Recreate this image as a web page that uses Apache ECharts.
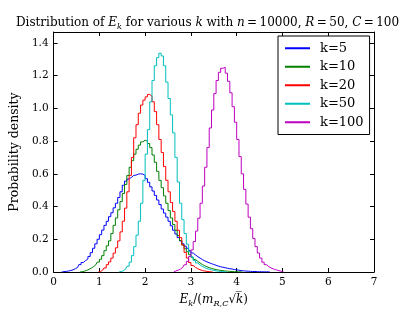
<!DOCTYPE html>
<html>
<head>
<meta charset="utf-8">
<script src="https://cdn.jsdelivr.net/npm/echarts@6/dist/echarts.min.js"></script>
<style>
html,body{margin:0;padding:0;background:#fff;}
#chart{width:415px;height:313px;}
</style>
</head>
<body>
<div id="chart"></div>
<script>
// Histogram bin width and first bin centre for each series
const binWidth = 0.05;
const seriesNames = ['k=5', 'k=10', 'k=20', 'k=50', 'k=100'];
const seriesColors = ['#0000ff', '#008000', '#ff0000', '#00bfbf', '#bf00bf'];
const firstCenters = [0.225, 0.625, 1.025, 1.475, 2.675];

const k5 = [0.002,0.004,0.006,0.009,0.013,0.02,0.028,0.045,0.058,0.07,0.08,0.095,0.118,0.145,0.172,0.2,0.228,0.256,0.285,0.31,0.338,0.362,0.392,0.42,0.455,0.49,0.53,0.555,0.568,0.578,0.59,0.592,0.598,0.6,0.598,0.59,0.57,0.548,0.52,0.495,0.468,0.44,0.412,0.385,0.36,0.335,0.31,0.282,0.255,0.232,0.21,0.19,0.172,0.158,0.145,0.13,0.116,0.104,0.094,0.085,0.076,0.068,0.062,0.056,0.051,0.046,0.041,0.036,0.032,0.029,0.026,0.023,0.02,0.018,0.015,0.013,0.011,0.009,0.007,0.006,0.005,0.004,0.003,0.003,0.002,0.002,0.001,0.001,0.001,0.001];
const k10 = [0.002,0.005,0.01,0.016,0.024,0.033,0.045,0.06,0.078,0.1,0.13,0.16,0.19,0.235,0.285,0.33,0.38,0.43,0.48,0.535,0.59,0.64,0.68,0.72,0.75,0.775,0.795,0.805,0.8,0.785,0.76,0.715,0.67,0.615,0.56,0.515,0.465,0.42,0.375,0.33,0.29,0.255,0.222,0.192,0.165,0.142,0.124,0.106,0.09,0.076,0.065,0.055,0.046,0.038,0.032,0.027,0.022,0.018,0.015,0.012,0.01,0.008,0.006,0.005,0.004,0.003,0.002,0.002,0.001,0.001];
const k20 = [0.003,0.012,0.025,0.045,0.062,0.085,0.115,0.148,0.19,0.245,0.31,0.39,0.49,0.59,0.7,0.82,0.9,0.97,1.02,1.05,1.07,1.085,1.075,1.04,0.98,0.9,0.81,0.73,0.645,0.56,0.49,0.425,0.37,0.31,0.255,0.21,0.165,0.12,0.085,0.058,0.04,0.028,0.02,0.014,0.009,0.006,0.004,0.002,0.001];
const k50 = [0.003,0.008,0.018,0.035,0.06,0.1,0.155,0.225,0.31,0.42,0.56,0.72,0.87,1.04,1.17,1.26,1.31,1.337,1.32,1.26,1.16,1.06,0.96,0.85,0.7,0.55,0.42,0.32,0.235,0.17,0.125,0.092,0.07,0.055,0.043,0.034,0.027,0.021,0.017,0.013,0.01,0.007,0.005,0.003,0.002,0.001];
const k100 = [0.007,0.011,0.018,0.029,0.044,0.065,0.095,0.135,0.186,0.25,0.329,0.42,0.525,0.64,0.76,0.88,0.99,1.09,1.17,1.22,1.245,1.25,1.215,1.165,1.095,1.01,0.915,0.81,0.705,0.6,0.505,0.415,0.335,0.265,0.205,0.155,0.116,0.085,0.06,0.045,0.033,0.025,0.019,0.014,0.01,0.006,0.003];
const allValues = [k5, k10, k20, k50, k100];

const xTicks = [0, 7, 1];       // min, max, interval
const yTicks = [0, 1.4664, 0.2];

function toPoints(start, vals) {
  const pts = [[start - binWidth, 0]];
  vals.forEach((v, i) => pts.push([start + i * binWidth, v]));
  pts.push([start + vals.length * binWidth, 0]);
  return pts;
}

const FONT = 'DejaVu Serif';
const chart = echarts.init(document.getElementById('chart'), null, {renderer: 'canvas'});

const tickCommon = {show: true, inside: true, length: 4, lineStyle: {color: '#000', width: 1}};
const lineCommon = {show: true, onZero: false, lineStyle: {color: '#000', width: 1}};
const mathRich = (size) => ({
  n: {fontFamily: FONT, fontSize: size, fontWeight: 'normal', color: '#000', lineHeight: 16},
  i: {fontFamily: FONT, fontSize: size, fontWeight: 'normal', fontStyle: 'italic', color: '#000', lineHeight: 16},
  s: {fontFamily: FONT, fontSize: size * 0.68, fontWeight: 'normal', fontStyle: 'italic', color: '#000', lineHeight: 10, verticalAlign: 'bottom'}
});

chart.setOption({
  animation: false,
  backgroundColor: '#fff',
  title: {
    text: '{n|Distribution of }{i|E}{s|k}{n| for various }{i|k}{n| with }{i|n}{n|\u2009=\u200910000, }{i|R}{n|\u2009=\u200950, }{i|C}{n|\u2009=\u2009100}',
    left: 'center',
    top: 10,
    textStyle: {fontWeight: 'normal', rich: mathRich(12)}
  },
  legend: {
    show: true,
    orient: 'vertical',
    left: 278,
    top: 36,
    padding: [5, 6, 5, 7],
    itemGap: 4,
    itemWidth: 25,
    itemHeight: 2,
    icon: 'rect',
    borderColor: '#000',
    borderWidth: 1,
    backgroundColor: '#fff',
    textStyle: {fontFamily: FONT, fontSize: 13, color: '#000', lineHeight: 14.5, padding: [0, 0, 0, 5]},
    data: seriesNames
  },
  grid: {left: 52, right: 41, top: 32, bottom: 32},
  xAxis: [
    {
      type: 'value', min: xTicks[0], max: xTicks[1], interval: xTicks[2],
      axisLine: lineCommon, axisTick: tickCommon, splitLine: {show: false},
      axisLabel: {fontFamily: FONT, fontSize: 10.5, color: '#000', margin: 5},
      name: '{i|E}{s|k}{n|/(}{i|m}{s|R,C}{n|\u221A}{i|k\u0305}{n|)}',
      nameLocation: 'middle',
      nameGap: 20,
      nameTextStyle: {rich: mathRich(12)}
    },
    {
      type: 'value', position: 'top', min: xTicks[0], max: xTicks[1], interval: xTicks[2],
      axisLine: lineCommon, axisTick: tickCommon, splitLine: {show: false}, axisLabel: {show: false}
    }
  ],
  yAxis: [
    {
      type: 'value', min: yTicks[0], max: yTicks[1], interval: yTicks[2],
      axisLine: lineCommon, axisTick: tickCommon, splitLine: {show: false},
      axisLabel: {fontFamily: FONT, fontSize: 10.5, color: '#000', margin: 5, showMaxLabel: false,
        formatter: v => v.toFixed(1)},
      name: 'Probability density',
      nameLocation: 'middle',
      nameGap: 32,
      nameTextStyle: {fontFamily: FONT, fontSize: 12.5, color: '#000'}
    },
    {
      type: 'value', position: 'right', min: yTicks[0], max: yTicks[1], interval: yTicks[2],
      axisLine: lineCommon, axisTick: tickCommon, splitLine: {show: false}, axisLabel: {show: false}
    }
  ],
  series: seriesNames.map((name, idx) => ({
    name: name,
    type: 'line',
    step: 'middle',
    xAxisIndex: 0,
    yAxisIndex: 0,
    showSymbol: false,
    symbol: 'none',
    color: seriesColors[idx],
    lineStyle: {color: seriesColors[idx], width: 1},
    data: toPoints(firstCenters[idx], allValues[idx])
  }))
});
</script>
</body>
</html>
